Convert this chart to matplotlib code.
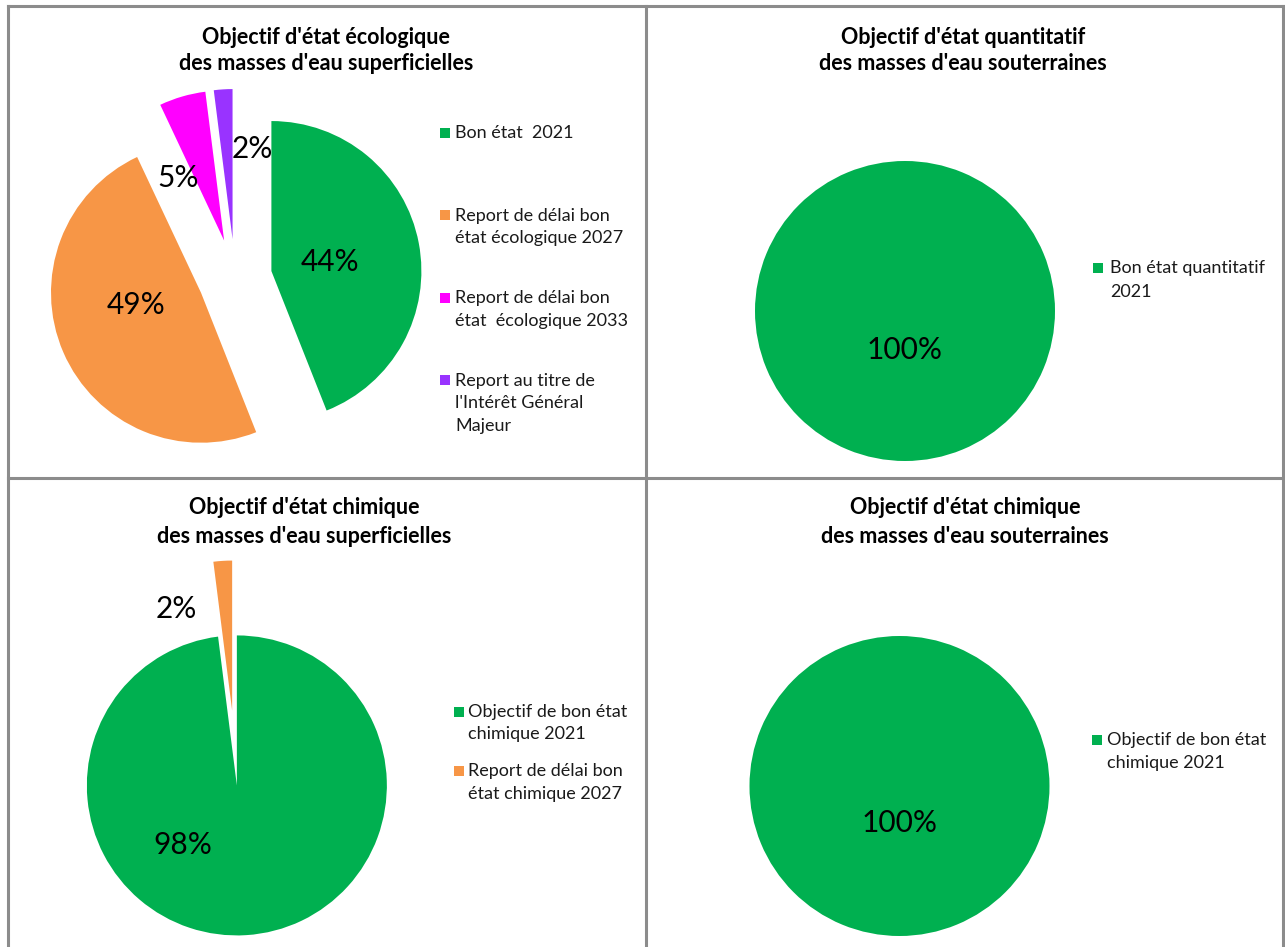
import matplotlib
matplotlib.use("Agg")
import matplotlib.pyplot as plt
from matplotlib.lines import Line2D
from matplotlib.patches import Rectangle

W, H = 1285, 947
R_PX = 150  # pie radius in pixels

# --- data ---
eco_labels = ["Bon état  2021",
              "Report de délai bon\nétat écologique 2027",
              "Report de délai bon\nétat  écologique 2033",
              "Report au titre de\nl'Intérêt Général\nMajeur"]
eco_values = [44, 49, 5, 2]

quant_labels = ["Bon état quantitatif\n2021"]
quant_values = [100]

chim_sup_labels = ["Objectif de bon état\nchimique 2021",
                   "Report de délai bon\nétat chimique 2027"]
chim_sup_values = [98, 2]

chim_sout_labels = ["Objectif de bon état\nchimique 2021"]
chim_sout_values = [100]

GREEN, ORANGE, MAGENTA, PURPLE = "#00B050", "#F79646", "#FF00FF", "#9933FF"
GRID = "#8C8C8C"

plt.rcParams["font.family"] = ["Lato", "DejaVu Sans"]

fig = plt.figure(figsize=(W / 100, H / 100), dpi=100)


def fx(x):
    return x / W


def fy(y):
    return 1 - y / H


def pie_panel(cx, cy, values, colors, explode, pct_offsets, half=1.7):
    s = half * R_PX
    ax = fig.add_axes([(cx - s) / W, (H - cy - s) / H, 2 * s / W, 2 * s / H])
    ax.patch.set_alpha(0)
    wedges, _ = ax.pie(values, colors=colors, startangle=90, counterclock=False,
                       explode=explode, radius=1, wedgeprops=dict(linewidth=0))
    # pie() resets the limits, so fix them afterwards
    ax.set_xlim(-half, half)
    ax.set_ylim(-half, half)
    ax.set_axis_off()
    for w, v, (dx, dy) in zip(wedges, values, pct_offsets):
        x0, y0 = w.center
        ax.text(x0 + dx, y0 + dy, f"{v}%", ha="center", va="center",
                fontsize=21.5, color="black")
    return ax


def title(cx, y1, y2, line1, line2):
    for y, t in ((y1, line1), (y2, line2)):
        fig.text(fx(cx), fy(y), t, ha="center", va="center",
                 fontsize=15.5, fontweight="bold")


def legend(marker_x, text_x, y_first, step, line_step, labels, colors):
    for i, (lab, col) in enumerate(zip(labels, colors)):
        y = y_first + i * step
        fig.add_artist(Rectangle((fx(marker_x - 5), fy(y + 5)), 10 / W, 10 / H,
                                 transform=fig.transFigure, facecolor=col,
                                 edgecolor="none"))
        for j, line in enumerate(lab.split("\n")):
            fig.text(fx(text_x), fy(y + j * line_step), line, ha="left",
                     va="center", fontsize=13, color="#1a1a1a")


# --- top left: ecological state ---
pie_panel(235, 278, eco_values, [GREEN, ORANGE, MAGENTA, PURPLE],
          [0.247, 0.247, 0.26, 0.26],
          [(0.39, 0.06), (-0.43, -0.08), (-0.31, 0.42), (0.13, 0.60)])
title(326, 37, 64, "Objectif d'état écologique", "des masses d'eau superficielles")
legend(445, 455, 133, 82.5, 23, eco_labels, [GREEN, ORANGE, MAGENTA, PURPLE])

# --- top right: quantitative state ---
pie_panel(905, 311, quant_values, [GREEN], [0], [(0, -0.26)])
title(963, 38, 63, "Objectif d'état quantitatif", "des masses d'eau souterraines")
legend(1098, 1110, 268, 0, 24, quant_labels, [GREEN])

# --- bottom left: chemical state, surface ---
pie_panel(234.5, 748, chim_sup_values, [GREEN, ORANGE], [0.25, 0.25],
          [(-0.36, -0.40), (-0.37, 0.68)])
title(304, 508, 536, "Objectif d'état chimique", "des masses d'eau superficielles")
legend(459, 468, 712, 59, 22.5, chim_sup_labels, [GREEN, ORANGE])

# --- bottom right: chemical state, groundwater ---
pie_panel(899.5, 786, chim_sout_values, [GREEN], [0], [(0, -0.25)])
title(965, 508, 536, "Objectif d'état chimique", "des masses d'eau souterraines")
legend(1097, 1107, 740, 0, 23, chim_sout_labels, [GREEN])

# --- panel borders ---
for (x0, y0, x1, y1) in [(7.5, 6.5, 1282.5, 6.5), (7.5, 6.5, 7.5, 947),
                         (1282.5, 6.5, 1282.5, 947), (645.5, 6.5, 645.5, 947),
                         (7.5, 478.5, 1282.5, 478.5)]:
    fig.add_artist(Line2D([fx(x0), fx(x1)], [fy(y0), fy(y1)],
                          transform=fig.transFigure, color=GRID, linewidth=2.2))

fig.savefig("out.png", dpi=100)
